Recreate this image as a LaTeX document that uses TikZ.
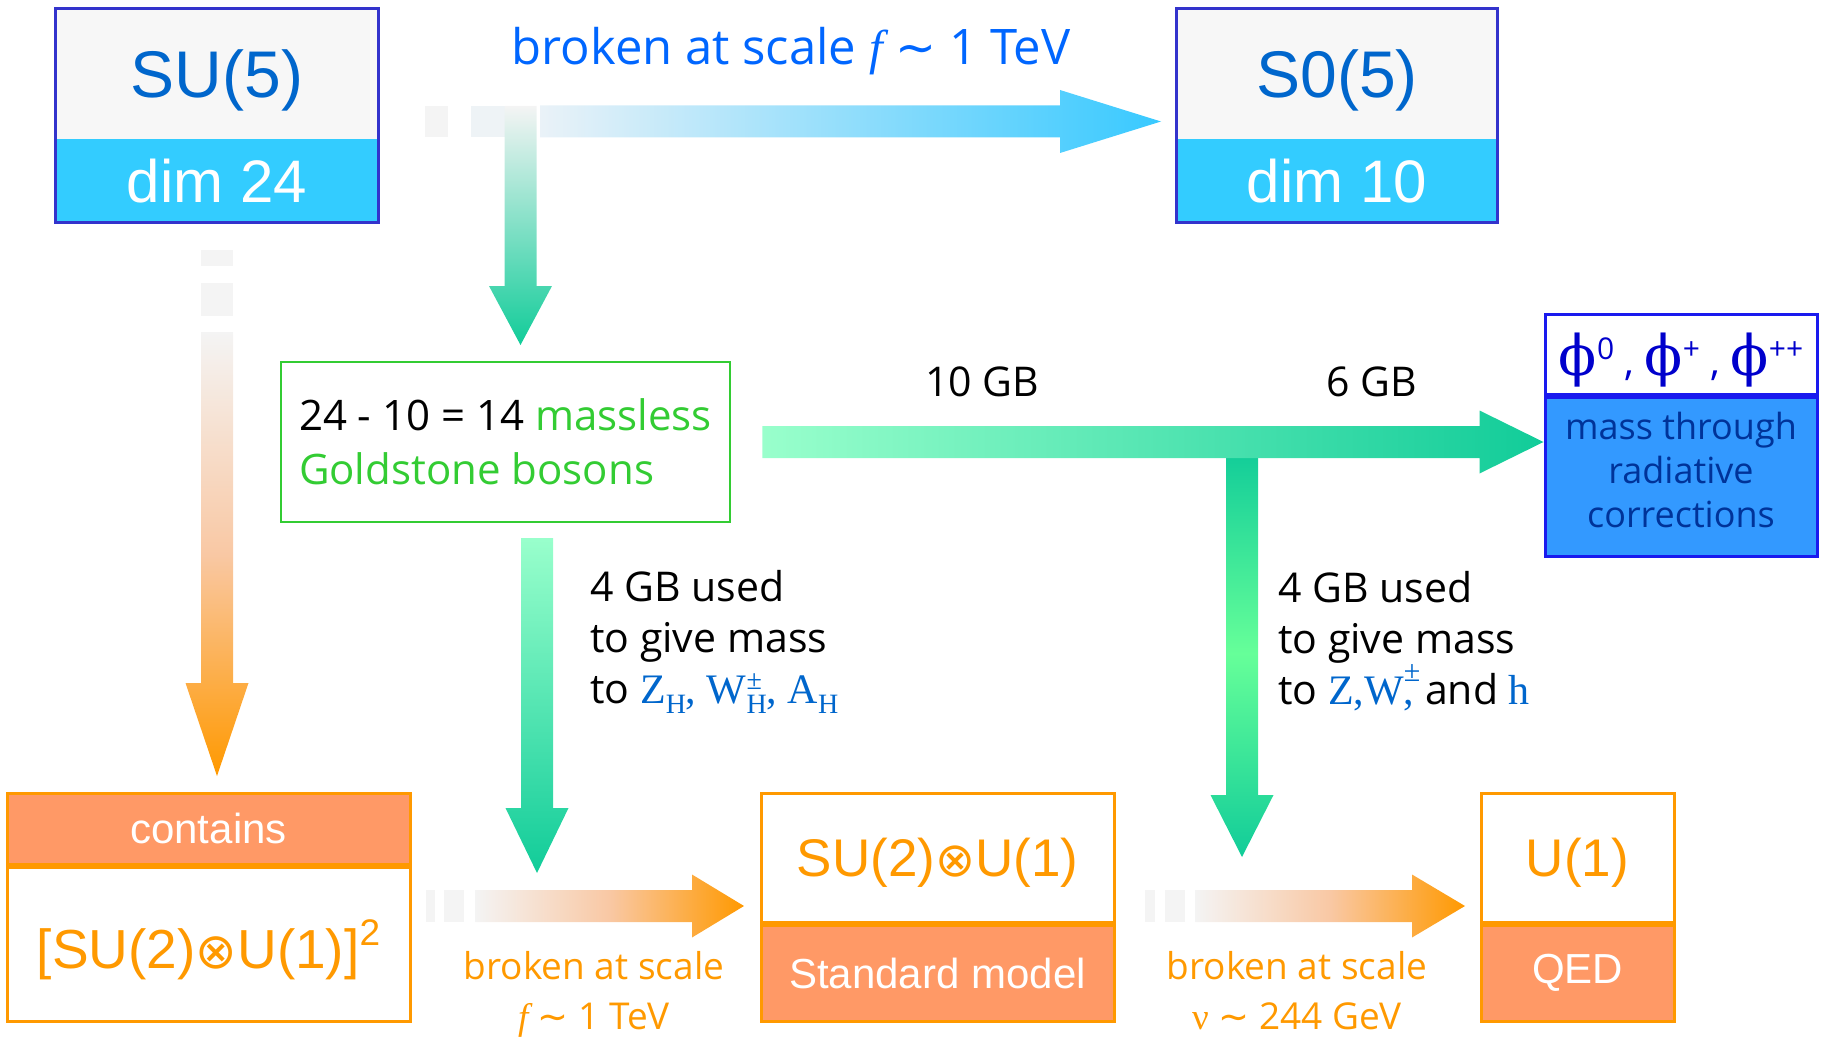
\documentclass[tikz,border=0pt]{standalone}
\usepackage{graphicx}
\usepackage{fontspec}
\setmainfont{Open Sans}
\newfontfamily\arialfont{Liberation Sans}
\newfontfamily\timesfont{Liberation Serif}
\newfontfamily\phifont{DejaVu Serif}
\newfontfamily\symfont{DejaVu Sans}
\usetikzlibrary{calc,positioning}

\definecolor{boxblue}{HTML}{3333CC}
\definecolor{topgrey}{HTML}{F7F7F7}
\definecolor{dimcyan}{HTML}{33CCFF}
\definecolor{grpblue}{HTML}{0066CC}
\definecolor{labblue}{HTML}{0066FF}
\definecolor{gbgreen}{HTML}{33CC33}
\definecolor{phiedge}{HTML}{1A1AEE}
\definecolor{phifill}{HTML}{3399FF}
\definecolor{phitext}{HTML}{0000CC}
\definecolor{radtext}{HTML}{003399}
\definecolor{smorange}{HTML}{FF9900}
\definecolor{smfill}{HTML}{FF9966}
\definecolor{mint}{HTML}{99FFCC}
\definecolor{gbteal}{HTML}{11CC99}
\definecolor{litegreen}{HTML}{66FF99}
\definecolor{fadegrey}{HTML}{F4F4F4}
\definecolor{fadeblue}{HTML}{EAF2F8}
\definecolor{peach}{HTML}{F9C8A4}
\definecolor{arrowcyan}{HTML}{38C9FF}

\newcommand{\fsz}[2]{\fontsize{#1}{#2}\selectfont}
\newcommand{\ox}{\scalebox{0.9}{\symfont ⊗}}
\newcommand{\fscale}{{\timesfont\itshape f} {\symfont∼} }
\newcommand{\phis}[1]{{\phifont\fsz{56}{60}ϕ}\raisebox{16pt}{\fsz{30}{32}#1}}

% fat arrows: shading, tail, tip, head length
\newcommand{\blockright}[4]{%
  \shade[#1] let \p1=(#2), \p2=(#3) in
    (\x1,\y1+16pt) -- (\x2-#4,\y1+16pt) -- (\x2-#4,\y1+31.5pt) -- (\x2,\y1)
    -- (\x2-#4,\y1-31.5pt) -- (\x2-#4,\y1-16pt) -- (\x1,\y1-16pt) -- cycle;}
\newcommand{\blockdown}[4]{%
  \shade[#1] let \p1=(#2), \p2=(#3) in
    (\x1-16pt,\y1) -- (\x1-16pt,\y2+#4) -- (\x1-31.5pt,\y2+#4) -- (\x1,\y2)
    -- (\x1+31.5pt,\y2+#4) -- (\x1+16pt,\y2+#4) -- (\x1+16pt,\y1) -- cycle;}

\begin{document}
\begin{tikzpicture}[x=1pt,y=-1pt,
    gtop/.style={fill=topgrey, text=grpblue, font=\arialfont\fsz{66}{79},
      inner sep=0pt, minimum height=130pt, text depth=0pt},
    gdim/.style={fill=dimcyan, text=white, font=\arialfont\fsz{60}{70},
      inner sep=0pt, minimum height=83pt},
    blueedge/.style={draw=boxblue, line width=3pt},
    orbox/.style={draw=smorange, line width=3pt, inner sep=0pt},
    orhead/.style={orbox, fill=smfill, text=white, font=\arialfont\fsz{42}{50}},
    orbody/.style={orbox, fill=white, text=smorange, font=\arialfont\fsz{53}{60},
      text depth=0pt},
    phibox/.style={draw=phiedge, line width=3pt, inner sep=0pt, minimum width=272pt},
    comic/.style={font=\fsz{41}{51}},
    scalelab/.style={text=smorange, font=\fsz{37}{50}, align=center, anchor=north},
    stripe/.style={fill=fadegrey}]
  \useasboundingbox (0,0) rectangle (1821,1043);

  % groups
  \node[gtop, minimum width=322pt] (su5) at (217,74) {SU(5)};
  \node[gdim, minimum width=322pt, below=0pt of su5] (su5dim) {dim 24};
  \draw[blueedge] (su5.north west) rectangle (su5dim.south east);
  \node[gtop, minimum width=320pt] (so5) at (1337,74) {S0(5)};
  \node[gdim, minimum width=320pt, below=0pt of so5] (so5dim) {dim 10};
  \draw[blueedge] (so5.north west) rectangle (so5dim.south east);

  \node[text=labblue, font=\fsz{49}{58}, anchor=base] (brk) at (791,65)
    {broken at scale \fscale 1 TeV};

  \node[draw=gbgreen, line width=2.5pt, minimum width=449pt, minimum height=160pt,
        align=left, font=\fsz{42}{59}] (gold) at (505.5,442)
    {\raisebox{-5pt}{24 - 10 = 14 \textcolor{gbgreen}{massless}}\\\textcolor{gbgreen}{Goldstone bosons}};

  \node[phibox, fill=white, text=phitext, minimum height=80pt, font=\fsz{40}{48},
        text depth=0pt] (phi) at (1681,354) {\phis{0} , \phis{+} , \phis{++}};
  \node[phibox, fill=phifill, minimum height=159pt, below=0pt of phi] (rad) {};
  \node[text=radtext, align=center, font=\fsz{36}{44}] (radtxt) at ($(rad)+(0,-7)$)
    {mass through\\radiative\\corrections};

  \node[comic, anchor=base] (tenGB) at (982,396) {10 GB};
  \node[comic, anchor=base] (sixGB) at (1372,396) {6 GB};

  \node[comic, align=left, anchor=north west, inner sep=0pt] (massH) at (590,570)
    {4 GB used\\to give mass\\to {\timesfont\fsz{42}{51}\color{grpblue}Z\raisebox{-10pt}{\fsz{28}{30}H},
     W\rlap{\raisebox{14pt}{\fsz{28}{30}±}}\raisebox{-10pt}{\fsz{28}{30}H}, A\raisebox{-10pt}{\fsz{28}{30}H}}};
  \node[comic, align=left, anchor=north west, inner sep=0pt] (massZ) at (1278,571)
    {4 GB used\\to give mass\\to {\timesfont\fsz{42}{51}\color{grpblue}Z,W\rlap{\raisebox{23pt}{\fsz{30}{32}±}},}
     and {\timesfont\fsz{42}{51}\color{grpblue}h}};

  % subgroups
  \node[orhead, minimum width=403pt, minimum height=71pt] (cont) at (208.5,828.5) {contains};
  \node[orbody, minimum width=403pt, minimum height=154pt, font=\arialfont\fsz{55}{62},
        below=0pt of cont] (su2sq) {[SU(2)\ox U(1)]\raisebox{23pt}{\fsz{37}{40}2}};
  \node[orbody, minimum width=353pt, minimum height=129pt] (sm) at (937.5,857.5) {SU(2)\ox U(1)};
  \node[orhead, minimum width=353pt, minimum height=96pt, below=0pt of sm] (smname) {Standard model};
  \node[orbody, minimum width=193pt, minimum height=129pt] (u1) at (1577.5,857.5) {U(1)};
  \node[orhead, minimum width=193pt, minimum height=96pt, below=0pt of u1] (qed) {QED};

  \node[scalelab] (brkF) at (594,948) {broken at scale\\\fscale 1 TeV};
  \node[scalelab] (brkV) at (1297,948) {broken at scale\\{\timesfont ν} {\symfont∼} 244 GeV};

  % arrow ends
  \coordinate (topTail) at (540,121.5);
  \coordinate (topTip) at (1161,121.5);
  \coordinate (gbTail) at (520.5,106);
  \coordinate (gbTip) at (520.5,345);
  \coordinate (sixTail) at ($(gold.east)+(31,0)$);
  \coordinate (sixTip) at (rad.west |- sixTail);
  \coordinate (zhTail) at (537,538);
  \coordinate (zhTip) at (537,873);
  \coordinate (zwTail) at (1242,450);
  \coordinate (zwTip) at (1242,857);
  \coordinate (subTail) at (217,332);
  \coordinate (subTip) at (217,776);
  \coordinate (fTail) at (475,906);
  \coordinate (fTip) at (744,906);
  \coordinate (vTail) at (1195,906);
  \coordinate (vTip) at (1465,906);

  % SU(5) -> SO(5)
  \fill[stripe] (425,106) rectangle (448,137);
  \fill[fadeblue!60!fadegrey] (471,106) rectangle (536,137);
  \blockright{left color=fadeblue, right color=arrowcyan}{topTail}{topTip}{101pt}
  \blockdown{top color=fadegrey, bottom color=gbteal}{gbTail}{gbTip}{59pt}

  % Goldstone bosons
  \blockdown{top color=gbteal, bottom color=gbteal, middle color=litegreen}{zwTail}{zwTip}{62pt}
  \blockright{left color=mint, right color=gbteal}{sixTail}{sixTip}{64pt}
  \blockdown{top color=mint, bottom color=gbteal}{zhTail}{zhTip}{65pt}

  % SU(5) contains
  \fill[stripe] (201,250) rectangle (233,266);
  \fill[stripe] (201,283) rectangle (233,316);
  \blockdown{top color=fadegrey, bottom color=smorange, middle color=peach}{subTail}{subTip}{93pt}

  \fill[stripe] (426,890) rectangle (435,922);
  \fill[stripe] (444,890) rectangle (464,922);
  \blockright{left color=fadegrey, right color=smorange, middle color=peach}{fTail}{fTip}{52pt}
  \fill[stripe] (1145,890) rectangle (1155,922);
  \fill[stripe] (1165,890) rectangle (1185,922);
  \blockright{left color=fadegrey, right color=smorange, middle color=peach}{vTail}{vTip}{53pt}
\end{tikzpicture}
\end{document}
